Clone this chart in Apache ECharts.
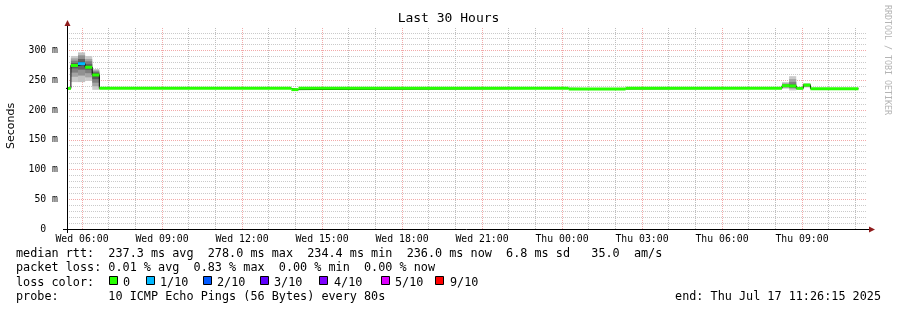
<!DOCTYPE html>
<html><head><meta charset="utf-8">
<script src="https://cdn.jsdelivr.net/npm/echarts@6/dist/echarts.min.js"></script>
<style>html,body{margin:0;padding:0;background:#fff}#c{width:897px;height:310px}</style>
</head><body><div id="c"></div>
<script>
// ---------- data ----------
const xAxisStart = 'Wed 05:26:15';
const xAxisEnd = 'Thu 11:26:15';
const xTickLabels = ['Wed 06:00','Wed 09:00','Wed 12:00','Wed 15:00','Wed 18:00','Wed 21:00','Thu 00:00','Thu 03:00','Thu 06:00','Thu 09:00'];
const yTickValues = [0, 50, 100, 150, 200, 250, 300];
const yTickLabels = ['0', '50 m', '100 m', '150 m', '200 m', '250 m', '300 m'];
const yMax = 338;

// median rtt per consolidated step (run starts), ms; loss = pings lost of 10
const segStart  = ['Wed 05:19','Wed 05:35','Wed 05:51','Wed 06:07','Wed 06:23','Wed 06:39','Wed 13:51','Wed 14:07','Thu 00:15','Thu 02:23','Thu 08:15','Thu 08:31','Thu 08:47','Thu 09:03','Thu 09:19'];
const segMedian = [236.4, 275.0, 278.0, 272.0, 259.0, 236.5, 234.4, 236.5, 235.6, 236.5, 241.0, 240.5, 236.5, 242.0, 236.0];
const segLoss   = [0, 0, 1, 0, 0, 0, 0, 0, 0, 0, 0, 0, 0, 0, 0];
const dataEnd = 'Thu 11:07';

// smoke: sorted ping values of the steps where they spread visibly
const smokeStart = ['Wed 05:35','Wed 05:51','Wed 06:07','Wed 06:23','Thu 08:15','Thu 08:31','Thu 09:03'];
const smokeEnd   = ['Wed 05:51','Wed 06:07','Wed 06:23','Wed 06:39','Thu 08:31','Thu 08:47','Thu 09:19'];
const smokePings = [
  [247, 256, 263, 270, 274, 276, 279, 283, 287, 291],
  [247, 258, 268, 275, 278, 281, 286, 292, 297],
  [249, 255, 262, 268, 271, 273, 277, 282, 286, 291],
  [234, 240, 246, 252, 257, 261, 263, 265, 267, 269],
  [236, 237.5, 239, 240, 241, 241.5, 242, 243.5, 245, 247],
  [233, 236, 237, 238.5, 240, 241, 243, 247, 252, 257],
  [238, 239, 240, 241, 242, 242.5, 243, 243.5, 244, 245]
];

const lossColors = {0:'#26ff00', 1:'#00b8ff', 2:'#0059ff', 3:'#5e00ff', 4:'#7e00ff', 5:'#dd00ff', 9:'#ff0000'};
const lossLegendKeys = [0, 1, 2, 3, 4, 5, 9];
const lossLegendLabels = ['0', '1/10', '2/10', '3/10', '4/10', '5/10', '9/10'];

const legendLine1 = 'median rtt:  237.3 ms avg  278.0 ms max  234.4 ms min  236.0 ms now  6.8 ms sd   35.0  am/s';
const legendLine2 = 'packet loss: 0.01 % avg  0.83 % max  0.00 % min  0.00 % now';
const legendLine3 = 'loss color:';
const legendLine4 = 'probe:       10 ICMP Echo Pings (56 Bytes) every 80s';
const endText = 'end: Thu Jul 17 11:26:15 2025';
const titleText = 'Last 30 Hours';
const yName = 'Seconds';
const watermark = 'RRDTOOL / TOBI OETIKER';

// ---------- helpers ----------
function toH(s) {
  const [d, t] = s.split(' ');
  const p = t.split(':').map(Number);
  const sec = (d === 'Thu' ? 86400 : 0) + p[0] * 3600 + p[1] * 60 + (p[2] || 0);
  return sec / 3600;
}

// ---------- layout ----------
const GL = 67, GT = 28, GR = 867, GB = 229, W = 897, H = 310;
const MONO = '"DejaVu Sans Mono", monospace';
const AX_FONT = 9.8, LEG_FONT = 11.8;
const GRID_MINOR_X = '#bdbdbd', GRID_MINOR_Y = '#cacaca', GRID_MAJOR = '#f2aaaa';

const xMin = toH(xAxisStart), xMax = toH(xAxisEnd);
const X_INT = 0.0625; // 3.75 min sub-steps, min is a multiple of it
const xLineColors = [];
for (let i = 0; i < 48; i++) {
  const v = xMin + i * X_INT;
  if (Math.abs(v - Math.round(v)) < 1e-9) {
    xLineColors.push(Math.round(v) % 3 === 0 ? GRID_MAJOR : GRID_MINOR_X);
  } else {
    xLineColors.push('rgba(0,0,0,0)');
  }
}

const lineData = [];
const barData = [];
segStart.forEach((s, i) => {
  const a = toH(s);
  const b = toH(i < segStart.length - 1 ? segStart[i + 1] : dataEnd);
  lineData.push([a, segMedian[i]], [b, segMedian[i]]);
  barData.push([a, b, segMedian[i], segLoss[i]]);
});
const smokeData = smokeStart.map((s, i) => [toH(s), toH(smokeEnd[i]), i]);

const chart = echarts.init(document.getElementById('c'), null, {renderer: 'canvas'});

const graphics = [];
graphics.push({type: 'text', x: W / 2, y: 19, style: {text: titleText, font: '13px ' + MONO, fill: '#000', align: 'center', verticalAlign: 'middle'}});
graphics.push({type: 'text', x: 11, y: 126, rotation: Math.PI / 2, style: {text: yName, font: '11px "DejaVu Sans", sans-serif', fill: '#000', align: 'center', verticalAlign: 'middle'}});
graphics.push({type: 'text', x: 887, y: 60, rotation: -Math.PI / 2, style: {text: watermark, font: '8.3px ' + MONO, fill: '#b4b4b4', align: 'center', verticalAlign: 'middle'}});
// axis extensions and arrows
graphics.push({type: 'line', shape: {x1: GL - 4, y1: GB + 0.5, x2: GR + 3, y2: GB + 0.5}, style: {stroke: '#000', lineWidth: 1}, z: 50});
graphics.push({type: 'line', shape: {x1: GL + 0.5, y1: GB + 4, x2: GL + 0.5, y2: GT - 3}, style: {stroke: '#000', lineWidth: 1}, z: 50});
graphics.push({type: 'polygon', shape: {points: [[GL - 2.5, GT - 2], [GL + 3.5, GT - 2], [GL + 0.5, GT - 8]]}, style: {fill: '#8f1c1c'}, z: 51});
graphics.push({type: 'polygon', shape: {points: [[GR + 2, GB - 2.5], [GR + 2, GB + 3.5], [GR + 8, GB + 0.5]]}, style: {fill: '#8f1c1c'}, z: 51});
// legend text
const legY = [254, 268.3, 282.6, 296.9];
[legendLine1, legendLine2, legendLine3, legendLine4].forEach((t, i) => {
  graphics.push({type: 'text', x: 16, y: legY[i], style: {text: t, font: LEG_FONT + 'px ' + MONO, fill: '#000', align: 'left', verticalAlign: 'middle'}});
});
graphics.push({type: 'text', x: 881, y: legY[3], style: {text: endText, font: LEG_FONT + 'px ' + MONO, fill: '#000', align: 'right', verticalAlign: 'middle'}});
const sqX = [109, 146, 203, 260, 319, 381, 435];
const lbX = [123, 160, 217, 274, 334, 395, 450];
lossLegendKeys.forEach((k, i) => {
  graphics.push({type: 'rect', shape: {x: sqX[i] + 0.5, y: 276.5, width: 8, height: 8}, style: {fill: lossColors[k], stroke: '#000', lineWidth: 1}});
  graphics.push({type: 'text', x: lbX[i], y: legY[2], style: {text: lossLegendLabels[i], font: LEG_FONT + 'px ' + MONO, fill: '#000', align: 'left', verticalAlign: 'middle'}});
});

function shade(i, half) {
  const c = Math.round(190 / half * (half - 1 - i) + 50);
  return 'rgb(' + c + ',' + c + ',' + c + ')';
}

chart.setOption({
  animation: false,
  backgroundColor: '#fff',
  grid: {left: GL, top: GT, width: GR - GL, height: GB - GT, containLabel: false, show: false},
  xAxis: {
    type: 'value', min: xMin, max: xMax, interval: X_INT,
    axisLine: {show: false},
    axisTick: {show: false},
    axisLabel: {
      show: true, margin: 5, color: '#000', fontFamily: MONO, fontSize: AX_FONT,
      showMinLabel: false, showMaxLabel: false, hideOverlap: false,
      formatter: function (v) {
        for (let i = 0; i < xTickLabels.length; i++) {
          if (Math.abs(toH(xTickLabels[i]) - v) < 1e-6) return xTickLabels[i];
        }
        return '';
      }
    },
    splitLine: {show: true, showMinLine: true, showMaxLine: true, lineStyle: {color: xLineColors, width: 1, type: [1, 1]}}
  },
  yAxis: {
    type: 'value', min: 0, max: yMax, interval: 10,
    axisLine: {show: false},
    axisTick: {show: false},
    axisLabel: {
      show: true, margin: 9, color: '#000', fontFamily: MONO, fontSize: AX_FONT,
      formatter: function (v) {
        const i = yTickValues.indexOf(v);
        if (i < 0) return '';
        return yTickLabels[i] === '0' ? '0  ' : yTickLabels[i];
      }
    },
    splitLine: {show: true, showMaxLine: false, lineStyle: {color: [GRID_MAJOR, GRID_MINOR_Y, GRID_MINOR_Y, GRID_MINOR_Y, GRID_MINOR_Y], width: 1, type: [1, 1]}}
  },
  graphic: {elements: graphics},
  series: [
    {
      type: 'custom', z: 2, silent: true,
      data: smokeData,
      encode: {x: [0, 1], y: 2},
      renderItem: function (params, api) {
        const a = api.value(0), b = api.value(1);
        const pings = smokePings[api.value(2)];
        const n = pings.length, half = Math.floor(n / 2);
        const children = [];
        for (let i = 0; i < half; i++) {
          const p1 = api.coord([a, pings[n - 1 - i]]);
          const p2 = api.coord([b, pings[i]]);
          children.push({type: 'rect', shape: {x: p1[0], y: p1[1], width: p2[0] - p1[0], height: p2[1] - p1[1]}, style: {fill: shade(i, half)}});
        }
        return {type: 'group', children: children};
      }
    },
    {
      type: 'line', z: 3, silent: true, clip: true,
      data: lineData, showSymbol: false, symbol: 'none',
      lineStyle: {color: '#000', width: 1}
    },
    {
      type: 'custom', z: 4, silent: true,
      data: barData,
      encode: {x: [0, 1], y: 2},
      renderItem: function (params, api) {
        const p1 = api.coord([api.value(0), api.value(2)]);
        const p2 = api.coord([api.value(1), api.value(2)]);
        const x0 = Math.max(p1[0], params.coordSys.x);
        const x1 = Math.min(p2[0], params.coordSys.x + params.coordSys.width);
        return {type: 'rect', shape: {x: x0, y: p1[1] - 1.5, width: x1 - x0, height: 3}, style: {fill: lossColors[api.value(3)]}};
      }
    }
  ]
});
</script></body></html>
